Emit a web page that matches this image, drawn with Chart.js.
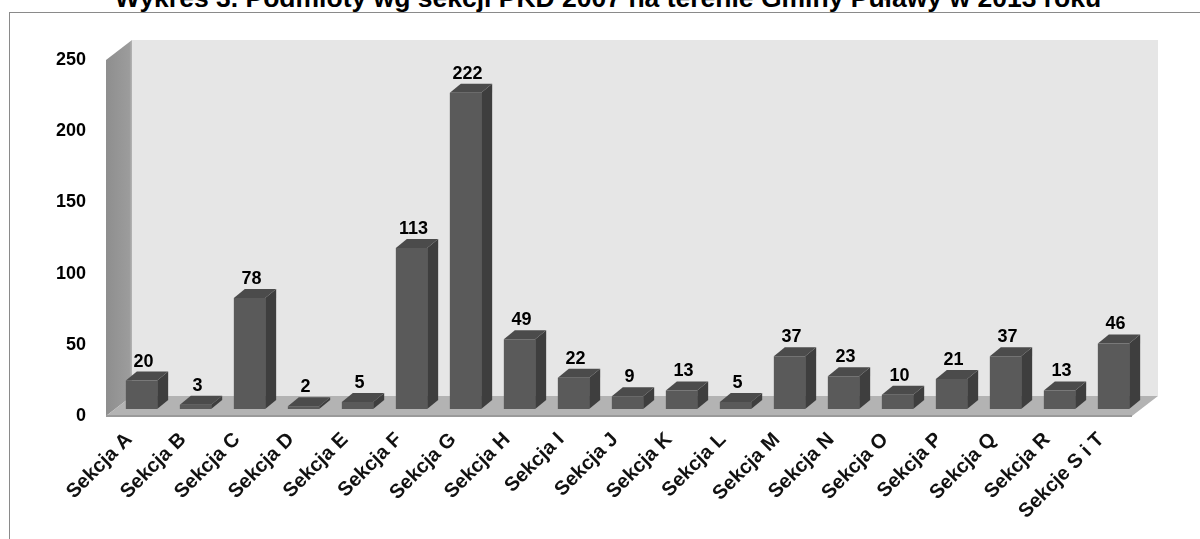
<!DOCTYPE html>
<html>
<head>
<meta charset="utf-8">
<script src="https://cdn.jsdelivr.net/npm/chart.js@4/dist/chart.umd.min.js"></script>
<style>
  html, body { margin: 0; padding: 0; background: #fff; overflow: hidden; }
  #wrap { position: relative; width: 1200px; height: 539px; overflow: hidden; }
  #frame { position: absolute; left: 9px; top: 12px; width: 1200px; height: 600px;
           border-left: 1px solid #8a8a8a; border-top: 1px solid #8a8a8a; }
  #title { position: absolute; left: 0; width: 1216px; top: -17px; text-align: center;
           font: bold 26.5px 'Liberation Sans', Arial, sans-serif; line-height: 30px;
           color: #000; white-space: nowrap; }
  canvas { position: absolute; left: 0; top: 0; }
</style>
</head>
<body>
<div id="wrap">
  <div id="frame"></div>
  <div id="title">Wykres 3. Podmioty wg sekcji PKD 2007 na terenie Gminy Puławy w 2013 roku</div>
  <canvas id="chart" width="1200" height="539"></canvas>
</div>
<script>
// categories and values
const sections = ['Sekcja A', 'Sekcja B', 'Sekcja C', 'Sekcja D', 'Sekcja E', 'Sekcja F',
  'Sekcja G', 'Sekcja H', 'Sekcja I', 'Sekcja J', 'Sekcja K', 'Sekcja L', 'Sekcja M',
  'Sekcja N', 'Sekcja O', 'Sekcja P', 'Sekcja Q', 'Sekcja R', 'Sekcje S i T'];
const counts = [20, 3, 78, 2, 5, 113, 222, 49, 22, 9, 13, 5, 37, 23, 10, 21, 37, 13, 46];
const yMax = 250;
const yStep = 50;

const COLORS = {
  front: '#5a5a5a',
  side: '#3e3e3e',
  top: '#4b4b4b',
  backWall: '#e6e6e6',
  floor: '#b3b3b3',
  floorEdge: '#9a9a9a',
};

// wall depth and bar offset inside the "room"
const WALL_DX = 26, WALL_DY = -20;
const BAR_OX = 8.5, BAR_OY = -7;
const BAR_DX = 11, BAR_DY = -9;

function poly(ctx, pts, fill) {
  ctx.beginPath();
  ctx.moveTo(pts[0][0], pts[0][1]);
  for (let i = 1; i < pts.length; i++) ctx.lineTo(pts[i][0], pts[i][1]);
  ctx.closePath();
  ctx.fillStyle = fill;
  ctx.fill();
}

const threeD = {
  id: 'threeD',
  beforeDatasetsDraw(chart) {
    const { ctx, chartArea: a } = chart;
    ctx.save();
    // back wall
    poly(ctx, [[a.left + WALL_DX, a.top + WALL_DY], [a.right + WALL_DX, a.top + WALL_DY],
      [a.right + WALL_DX, a.bottom + WALL_DY], [a.left + WALL_DX, a.bottom + WALL_DY]], COLORS.backWall);
    // left wall
    const g = ctx.createLinearGradient(a.left, 0, a.left + WALL_DX, 0);
    g.addColorStop(0, '#8e8e8e');
    g.addColorStop(0.9, '#9c9c9c');
    g.addColorStop(1, '#b5b5b5');
    poly(ctx, [[a.left, a.top], [a.left + WALL_DX, a.top + WALL_DY],
      [a.left + WALL_DX, a.bottom + WALL_DY], [a.left, a.bottom]], g);
    // floor
    poly(ctx, [[a.left, a.bottom], [a.left + WALL_DX, a.bottom + WALL_DY],
      [a.right + WALL_DX, a.bottom + WALL_DY], [a.right, a.bottom]], COLORS.floor);
    ctx.fillStyle = COLORS.floorEdge;
    ctx.fillRect(a.left, a.bottom - 1, a.right - a.left, 2);
    ctx.restore();

    // bar side and top faces, then shift the library's front faces into the room
    ctx.save();
    ctx.translate(BAR_OX, BAR_OY);
    chart.getDatasetMeta(0).data.forEach(bar => {
      const l = bar.x - bar.width / 2, r = bar.x + bar.width / 2;
      const t = Math.min(bar.y, bar.base - 1), b = bar.base;
      poly(ctx, [[r, t], [r + BAR_DX, t + BAR_DY], [r + BAR_DX, b + BAR_DY], [r, b]], COLORS.side);
      poly(ctx, [[l, t], [l + BAR_DX, t + BAR_DY], [r + BAR_DX, t + BAR_DY], [r, t]], COLORS.top);
    });
  },
  afterDatasetsDraw(chart) {
    const { ctx } = chart;
    ctx.restore();
    ctx.save();
    ctx.font = 'bold 18px "Liberation Sans", Arial, sans-serif';
    ctx.fillStyle = '#000';
    ctx.textAlign = 'center';
    ctx.textBaseline = 'alphabetic';
    chart.getDatasetMeta(0).data.forEach((bar, i) => {
      const t = Math.min(bar.y, bar.base - 1);
      ctx.fillText(String(counts[i]), bar.x + BAR_OX + 2, t + BAR_OY + BAR_DY - 5);
    });
    ctx.restore();
  },
};

new Chart(document.getElementById('chart'), {
  type: 'bar',
  data: {
    labels: sections,
    datasets: [{
      data: counts,
      backgroundColor: COLORS.front,
      borderWidth: 0,
      categoryPercentage: 1,
      barPercentage: 0.58,
    }],
  },
  options: {
    responsive: false,
    devicePixelRatio: 1,
    animation: false,
    layout: { padding: { top: 60, right: 68, left: 0, bottom: 0 } },
    plugins: {
      legend: { display: false },
      tooltip: { enabled: false },
    },
    scales: {
      x: {
        grid: { display: false, drawTicks: false },
        border: { display: false },
        afterFit: s => { s.height = 123; },
        ticks: {
          maxRotation: 45,
          minRotation: 45,
          padding: 12,
          labelOffset: -4,
          color: '#111',
          font: { family: "'Liberation Sans', Arial, sans-serif", size: 20, weight: 'bold' },
        },
      },
      y: {
        min: 0,
        max: yMax,
        grid: { display: false, drawTicks: false },
        border: { display: false },
        afterFit: s => { s.width = 106; },
        ticks: {
          stepSize: yStep,
          padding: 20,
          color: '#000',
          font: { family: "'Liberation Sans', Arial, sans-serif", size: 18, weight: 'bold' },
        },
      },
    },
  },
  plugins: [threeD],
});
</script>
</body>
</html>
